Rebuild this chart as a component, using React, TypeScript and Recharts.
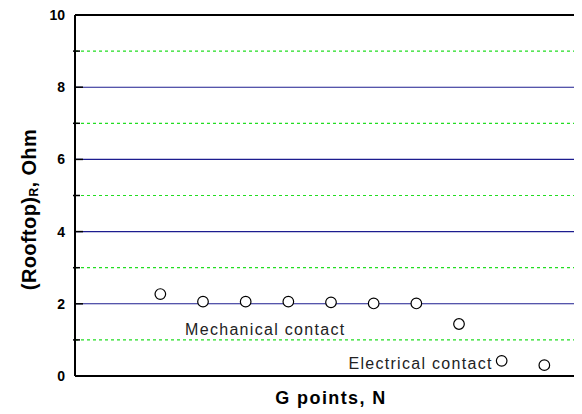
import { ScatterChart, Scatter, XAxis, YAxis, ReferenceLine, ReferenceDot } from 'recharts'

const points = [1, 2, 3, 4, 5, 6, 7, 8, 9, 10]
const resistance = [2.27, 2.06, 2.06, 2.06, 2.04, 2.01, 2.01, 1.44, 0.42, 0.3]
const yTicks = [0, 1, 2, 3, 4, 5, 6, 7, 8, 9, 10]
const majorLines = [2, 4, 6, 8]
const minorLines = [1, 3, 5, 7, 9]

const data = points.map((x, i) => ({ x, y: resistance[i] }))

const FONT = 'Arial, "Liberation Sans", sans-serif'
const AXIS_X = 67

function YTick({ y, payload }: any) {
  const v = payload.value
  if (v % 2 === 1) {
    return <line x1={AXIS_X - 2} x2={AXIS_X + 5} y1={y} y2={y} stroke="#000" strokeWidth={1.5} />
  }
  return (
    <g>
      <line x1={AXIS_X} x2={AXIS_X + 8} y1={y} y2={y} stroke="#000" strokeWidth={1.5} />
      <text x={AXIS_X - 10} y={y} textAnchor="end" dominantBaseline="central"
        fontFamily={FONT} fontWeight="bold" fontSize={14} fill="#000">{v}</text>
    </g>
  )
}

function YLabel({ viewBox }: any) {
  const cx = viewBox.x + 21
  const cy = viewBox.y + viewBox.height / 2 + 14
  return (
    <text x={cx} y={cy} transform={`rotate(-90 ${cx} ${cy})`} textAnchor="middle"
      dominantBaseline="central" fontFamily={FONT} fontWeight="bold" fontSize={20}
      letterSpacing={0.4} fill="#000">
      (Rooftop)<tspan fontSize={12} dy={5}>R</tspan><tspan dy={-5}>, Ohm</tspan>
    </text>
  )
}

function Note(text: string) {
  return ({ viewBox }: any) => (
    <text x={viewBox.x} y={viewBox.y} textAnchor="middle" dominantBaseline="central"
      fontFamily={FONT} fontSize={16} letterSpacing={1.3} fill="#222">{text}</text>
  )
}

function Ring({ cx, cy }: any) {
  return <circle cx={cx} cy={cy} r={5.3} fill="#fff" stroke="#000" strokeWidth={1.2} />
}

export default function App() {
  return (
    <div style={{ width: 574, height: 406, overflow: 'hidden', background: '#fff' }}>
      <ScatterChart width={579} height={406} margin={{ top: 7, right: 0, bottom: 0, left: 0 }}>
        <XAxis type="number" dataKey="x" domain={[-1, 11]} allowDataOverflow tick={false}
          tickLine={false} axisLine={{ stroke: '#000', strokeWidth: 2 }} height={38}
          label={{ value: 'G points, N', position: 'insideBottom', offset: 10, fontFamily: FONT,
            fontWeight: 'bold', fontSize: 18, letterSpacing: 1.4, fill: '#000' }} />
        <YAxis type="number" dataKey="y" domain={[0, 10]} ticks={yTicks} width={67}
          tickLine={false} axisLine={{ stroke: '#000', strokeWidth: 2 }} tick={<YTick />}
          interval={0} label={<YLabel />} />
        {minorLines.map((v) => (
          <ReferenceLine key={'m' + v} y={v} stroke="#22dd22" strokeWidth={1.2} strokeDasharray="3 3" />
        ))}
        {majorLines.map((v) => (
          <ReferenceLine key={'M' + v} y={v} stroke="#1c1c8f" strokeWidth={1.1} />
        ))}
        <ReferenceLine y={10} stroke="#000" strokeWidth={2} />
        <ReferenceDot x={3.46} y={1.3} r={0} label={Note('Mechanical contact')} />
        <ReferenceDot x={7.1} y={0.36} r={0} label={Note('Electrical contact')} />
        <Scatter data={data} shape={<Ring />} isAnimationActive={false} />
      </ScatterChart>
    </div>
  )
}
